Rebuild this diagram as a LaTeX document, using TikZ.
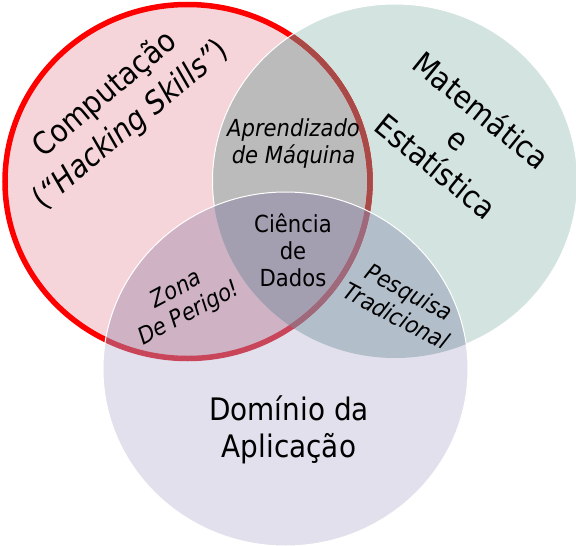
\documentclass[tikz,border=0pt]{standalone}
\usepackage{fontspec}
\setmainfont{DejaVu Sans}[FakeStretch=0.9]
\definecolor{pinkR}{HTML}{F6D5DA}
\definecolor{greenG}{HTML}{D3E3DF}
\definecolor{purpP}{HTML}{E2E0EC}
\definecolor{regRG}{HTML}{BABBBA}
\definecolor{regRP}{HTML}{CFB3C5}
\definecolor{regGP}{HTML}{B3BECB}
\definecolor{regRGP}{HTML}{A39FB1}
\definecolor{ringRed}{HTML}{FF0000}
\definecolor{ringG}{HTML}{A84A47}
\definecolor{ringP}{HTML}{C8455A}
\definecolor{ringGP}{HTML}{9E6A7B}
\def\circR{(187.5,181.5) ellipse [x radius=182.5pt, y radius=177pt]}
\def\circG{(395,181) ellipse [x radius=182.5pt, y radius=177pt]}
\def\circP{(285.5,369) ellipse [x radius=182.5pt, y radius=177pt]}
\tikzset{
  lbl/.style={align=center, text=black, inner sep=0pt},
  bigtxt/.style={lbl, font=\fontsize{31}{40}\selectfont},
  smalltxt/.style={lbl, font=\fontsize{23.5}{27}\selectfont},
  smallit/.style={lbl, font=\fontsize{23.5}{27}\selectfont\itshape},
  ring/.style={line width=5.5pt},
  edge/.style={draw=white, line width=1pt}
}
\begin{document}
\begin{tikzpicture}[x=1pt,y=-1pt]
\useasboundingbox (0,0) rectangle (576,546);
% red circle and green circle
\fill[pinkR] \circR;
\fill[greenG] \circG;
\begin{scope}
  \clip \circR;
  \fill[regRG] \circG;
\end{scope}
\draw[ring, ringRed] \circR;
\begin{scope}
  \clip \circG;
  \draw[ring, ringG] \circR;
\end{scope}
\draw[edge] \circG;
% purple circle
\fill[purpP] \circP;
\begin{scope}
  \clip \circR;
  \fill[regRP] \circP;
\end{scope}
\begin{scope}
  \clip \circG;
  \fill[regGP] \circP;
  \clip \circR;
  \fill[regRGP] \circP;
\end{scope}
\begin{scope}
  \clip \circP;
  \draw[ring, ringP] \circR;
  \clip \circG;
  \draw[ring, ringGP] \circR;
\end{scope}
\draw[edge] \circP;
% labels
\node[bigtxt, rotate=40] (comp) at (118,110) {Computação\\(\textit{“Hacking Skills”})};
\node[lbl, font=\fontsize{31}{36}\selectfont, rotate=-39] (mat) at (459,138) {Matemática\\e\\Estatística};
\node[smallit] (ml) at (293.5,143.5) {Aprendizado\\de Máquina};
\node[smalltxt] (ds) at (293,250) {Ciência\\de\\Dados};
\node[smallit, rotate=28] (zona) at (183,302) {Zona\\De Perigo!};
\node[smallit, rotate=-28] (pesq) at (403,304) {Pesquisa\\Tradicional};
\node[lbl, font=\fontsize{31}{37}\selectfont] (dom) at (289,430) {Domínio da\\Aplicação};
\end{tikzpicture}
\end{document}
